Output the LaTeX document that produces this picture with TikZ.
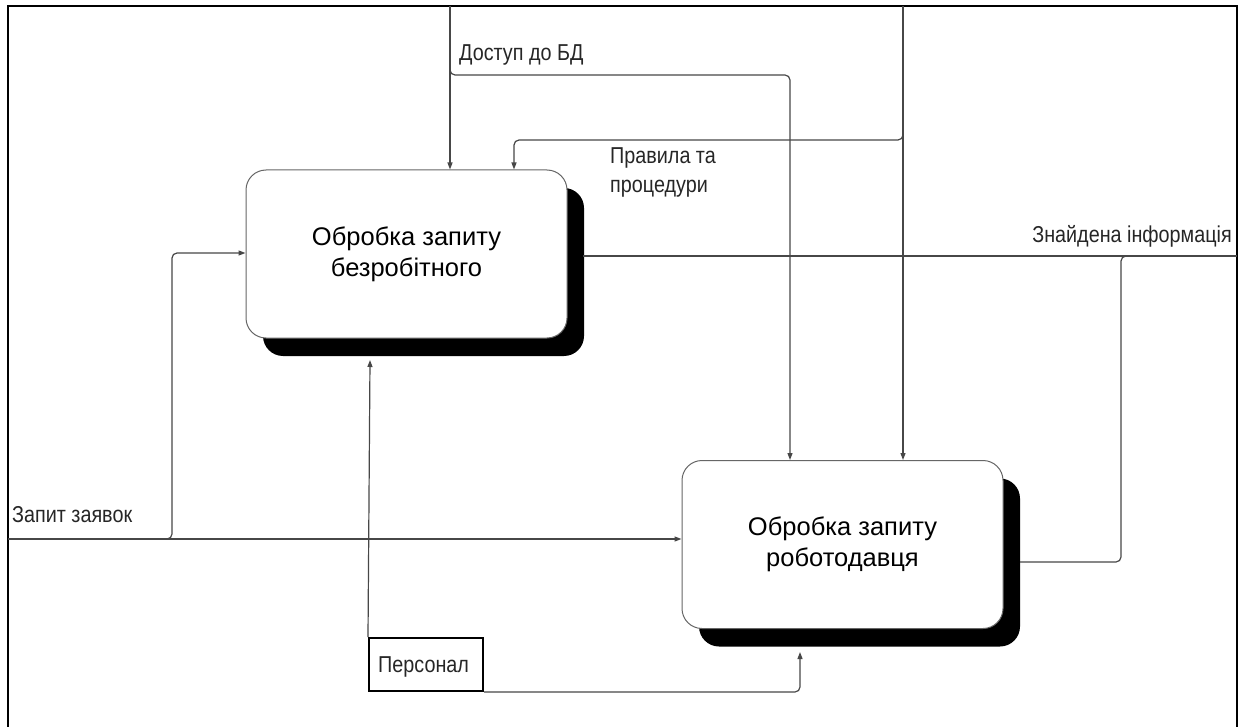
\documentclass[tikz,border=0pt]{standalone}
\usepackage{fontspec}
\setmainfont{Liberation Sans}
\newfontfamily\lblfont[FakeStretch=0.86]{Liberation Sans}
\usetikzlibrary{arrows.meta}
\begin{document}
\begin{tikzpicture}[x=1pt,y=-1pt,
  flow/.style={draw=black!72, line width=1.2pt, rounded corners=5pt},
  tip/.style={-{Triangle[length=7pt,width=5pt]}},
  proc/.style={draw=black!60, line width=1pt, fill=white, rounded corners=20pt,
    minimum width=321pt, minimum height=168pt, align=center,
    font=\fontsize{25.5}{31}\selectfont},
  shade/.style={fill=black, rounded corners=20pt, minimum width=321pt, minimum height=168pt},
  lbl/.style={font=\lblfont\fontsize{23}{29}\selectfont, inner sep=0pt, text=black!85},
  res/.style={draw=black, line width=2pt, minimum width=114pt, minimum height=53pt,
    inner sep=0pt}]
\useasboundingbox (0,0) rectangle (1242,727);
% outer frame
\draw[line width=2pt] (8,740) -- (8,6) -- (1237,6) -- (1237,740);
% shadows and activity boxes
\node[shade] at (423.5,272) {};
\node[shade] at (859.5,562.5) {};
\node[proc] (b1) at (406.5,254) {Обробка запиту\\безробітного};
\node[proc] (b2) at (842.5,544.5) {Обробка запиту\\роботодавця};
\node[res] (p) at (426,664.5) {};
\node[lbl, anchor=base west] (pt) at (378,672) {Персонал};
% coordinates for the frame-side ends and bends
\coordinate (t1) at (450,6);
\coordinate (t2) at (903,6);
\coordinate (inL) at (8,539);
\coordinate (outR) at (1237,256);
\coordinate (c1) at (790,75);
\coordinate (c2) at (514,140);
\coordinate (c3) at (172,253);
\coordinate (m1) at (370,360);
\coordinate (m2) at (800,652);
% controls from the top
\draw[flow,tip] (t1) -- (t1 |- b1.north);
\draw[flow,tip] (450,60) -- (450,75) -- (c1) -- (c1 |- b2.north);
\draw[flow,tip] (t2) -- (t2 |- b2.north);
\draw[flow,tip] (903,120) -- (903,140) -- (c2) -- (c2 |- b1.north);
% inputs from the left
\draw[flow,tip] (inL) -- (inL -| b2.west);
\draw[flow,tip] (150,539) -- (172,539) -- (c3) -- (c3 -| b1.west);
% outputs to the right
\draw[flow] (583,256) -- (outR);
\draw[flow] (1020,562) -- (1121,562) -- (1121,256) -- (1145,256);
% mechanism
\draw[flow,tip] (p.north west) -- (m1);
\draw[flow,tip] (p.south east) -- (m2 |- p.south east) -- (m2);
% labels
\node[lbl, anchor=base west] (l1) at (459,61) {Доступ до БД};
\node[lbl, anchor=base west] (l2a) at (610,164) {Правила та};
\node[lbl, anchor=base west] (l2b) at (610,193) {процедури};
\node[lbl, anchor=base east] (l3) at (1232,243) {Знайдена інформація};
\node[lbl, anchor=base west] (l4) at (12,522) {Запит заявок};
\end{tikzpicture}
\end{document}
